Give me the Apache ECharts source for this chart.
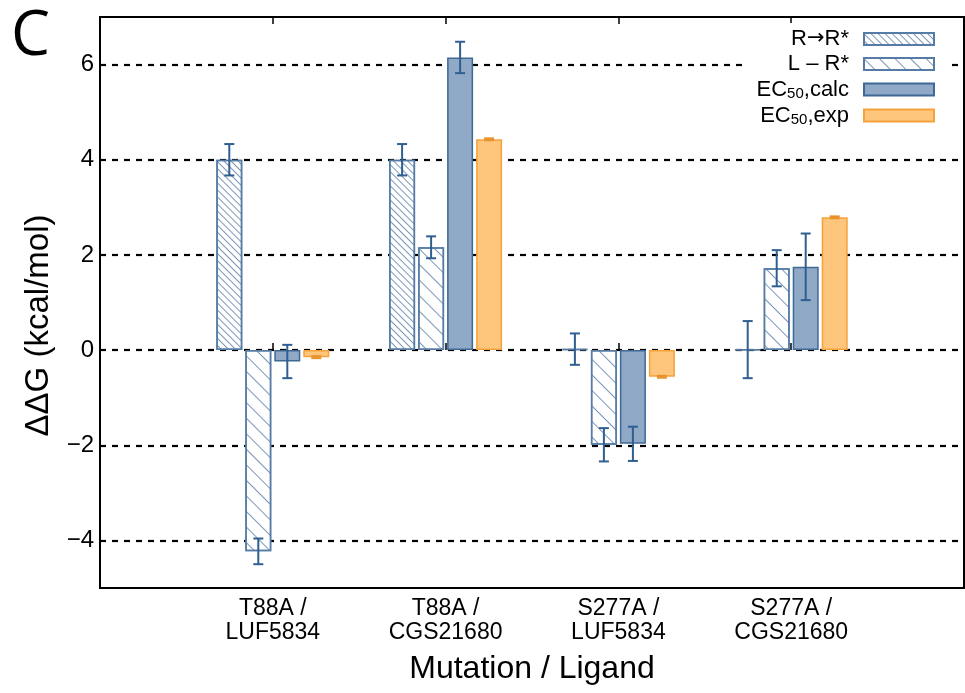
<!DOCTYPE html>
<html>
<head>
<meta charset="utf-8">
<script src="https://cdn.jsdelivr.net/npm/echarts@6/dist/echarts.min.js"></script>
<style>
  html, body { margin: 0; padding: 0; background: #fff; }
  #chart { width: 965px; height: 693px; }
</style>
</head>
<body>
<div id="chart"></div>
<script>
// categories on the x axis
const catPos = [1, 2, 3, 4]
const catLabels = ['T88A /\nLUF5834', 'T88A /\nCGS21680', 'S277A /\nLUF5834', 'S277A /\nCGS21680']
const yTicks = [-4, -2, 0, 2, 4, 6]

// ddG values (kcal/mol) and their errors
const rrVals = [4.0, 4.0, 0.02, 0.01]
const rrErr = [0.33, 0.33, 0.33, 0.6]
const lrVals = [-4.23, 2.16, -1.99, 1.72]
const lrErr = [0.27, 0.23, 0.35, 0.38]
const calcVals = [-0.24, 6.15, -1.97, 1.75]
const calcErr = [0.35, 0.33, 0.36, 0.7]
const expVals = [-0.15, 4.43, -0.56, 2.79]
const expErr = [0.02, 0.02, 0.02, 0.02]

const FONT = 'Liberation Sans'
const BAR_W = 26
const BAR_GAP = 3
const hatchBorder = '#567ca6'
const errColor = '#2f5f90'

function pairs(vals){
  return vals.map((v, i) => [catPos[i], v])
}

function errRows(vals, errs, k){
  return vals.map((v, i) => [catPos[i], v - errs[i], v + errs[i], k])
}

const errData = [].concat(
  errRows(rrVals, rrErr, 0),
  errRows(lrVals, lrErr, 1),
  errRows(calcVals, calcErr, 2),
  errRows(expVals, expErr, 3)
)

function hatchBar(name, vals, gap){
  return {
    name: name,
    type: 'bar',
    data: pairs(vals),
    barWidth: BAR_W,
    barGap: (BAR_GAP / BAR_W * 100) + '%',
    itemStyle: {
      color: '#fff',
      borderColor: hatchBorder,
      borderWidth: 1.5,
      decal: {
        symbol: 'rect',
        symbolSize: 1,
        dashArrayX: [1, 0],
        dashArrayY: [1, gap],
        rotation: Math.PI / 4,
        color: 'rgba(80,115,160,0.75)'
      }
    }
  }
}

const chart = echarts.init(document.getElementById('chart'))

const option = {
  animation: false,
  backgroundColor: '#fff',
  title: {
    text: 'C',
    left: 6,
    top: 1,
    textStyle: { fontFamily: 'Open Sans', fontSize: 62, fontWeight: 'normal', color: '#000' }
  },
  grid: {
    left: 100, right: 1, top: 17, bottom: 105,
    show: true, borderColor: '#000', borderWidth: 2,
    containLabel: false, outerBoundsMode: 'none'
  },
  legend: {
    orient: 'vertical',
    right: 17,
    top: 23,
    align: 'right',
    icon: 'rect',
    itemWidth: 70,
    itemHeight: 12,
    itemGap: 3,
    padding: [5, 13, 5, 13],
    backgroundColor: '#fff',
    data: ['R→R*', 'L – R*', 'EC50,calc', 'EC50,exp'],
    formatter: function (name) {
      if (name.indexOf('EC50') === 0) {
        return '{m|EC}{s|50}{m|' + name.slice(4) + '}'
      }
      if (name.indexOf('→') > 0) {
        const parts = name.split('→')
        return '{m|' + parts[0] + '}{a|→}{m|' + parts[1] + '}'
      }
      return '{m|' + name + '}'
    },
    textStyle: {
      padding: [0, 10, 0, 0],
      height: 22,
      rich: {
        m: { fontFamily: FONT, fontSize: 22, color: '#000', lineHeight: 22 },
        a: { fontFamily: 'DejaVu Sans', fontSize: 21, color: '#000', lineHeight: 22 },
        s: { fontFamily: FONT, fontSize: 15, color: '#000', lineHeight: 22, padding: [8, 0, 0, 0] }
      }
    }
  },
  xAxis: [{
    type: 'value',
    min: 0, max: 5,
    name: 'Mutation / Ligand',
    nameLocation: 'middle',
    nameGap: 65,
    nameTextStyle: { fontFamily: FONT, fontSize: 32, color: '#000' },
    axisLine: { show: false },
    splitLine: { show: false },
    axisTick: { show: true, inside: true, length: 7, customValues: catPos, lineStyle: { color: '#000', width: 1.5 } },
    axisLabel: {
      customValues: catPos,
      margin: 9,
      fontFamily: FONT, fontSize: 23, lineHeight: 24, color: '#000',
      formatter: function (v) { return catLabels[catPos.indexOf(v)] || '' }
    }
  }, {
    type: 'value',
    position: 'top',
    min: 0, max: 5,
    axisLine: { show: false },
    splitLine: { show: false },
    axisLabel: { show: false },
    axisTick: { show: true, inside: true, length: 7, customValues: catPos, lineStyle: { color: '#000', width: 1.5 } }
  }],
  yAxis: {
    type: 'value',
    min: -5, max: 7,
    name: 'ΔΔG (kcal/mol)',
    nameLocation: 'middle',
    nameGap: 44,
    nameTextStyle: { fontFamily: FONT, fontSize: 33, color: '#000', padding: [0, 46, 0, 0] },
    axisLine: { show: false },
    axisTick: { show: false, customValues: yTicks },
    axisLabel: {
      customValues: yTicks,
      margin: 6,
      fontFamily: FONT, fontSize: 24, color: '#000',
      formatter: function (v) { return String(v).replace('-', '\u2212') }
    },
    splitLine: { show: true, lineStyle: { color: '#000', width: 2.2, type: [6, 6] } }
  },
  series: [
    hatchBar('R→R*', rrVals, 4),
    hatchBar('L – R*', lrVals, 9.5),
    {
      name: 'EC50,calc',
      type: 'bar',
      data: pairs(calcVals),
      barWidth: BAR_W,
      barGap: (BAR_GAP / BAR_W * 100) + '%',
      itemStyle: { color: '#8fa9c6', borderColor: '#3e6896', borderWidth: 1.5 }
    },
    {
      name: 'EC50,exp',
      type: 'bar',
      data: pairs(expVals),
      barWidth: BAR_W,
      barGap: (BAR_GAP / BAR_W * 100) + '%',
      itemStyle: { color: '#fec67c', borderColor: '#f6a23a', borderWidth: 1.5 }
    },
    {
      name: 'err',
      type: 'custom',
      data: errData,
      z: 5,
      renderItem: function (params, api) {
        const x = api.value(0)
        const k = api.value(3)
        const top = api.coord([x, api.value(2)])
        const bot = api.coord([x, api.value(1)])
        const cx = top[0] + (k - 1.5) * (BAR_W + BAR_GAP)
        const stroke = k === 3 ? '#e8902a' : errColor
        const style = { stroke: stroke, lineWidth: 2 }
        return {
          type: 'group',
          children: [
            { type: 'line', shape: { x1: cx, y1: top[1], x2: cx, y2: bot[1] }, style: style },
            { type: 'line', shape: { x1: cx - 5, y1: top[1], x2: cx + 5, y2: top[1] }, style: style },
            { type: 'line', shape: { x1: cx - 5, y1: bot[1], x2: cx + 5, y2: bot[1] }, style: style }
          ]
        }
      }
    }
  ]
}

chart.setOption(option)
</script>
</body>
</html>
